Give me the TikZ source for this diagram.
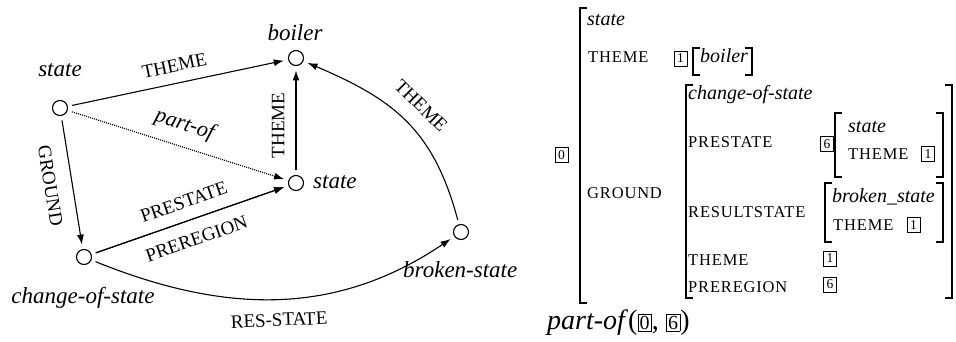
\documentclass[tikz,border=0pt]{standalone}
\usepackage{fontspec}
\setmainfont{Liberation Serif}
\newfontfamily\attrfont[LetterSpace=5]{Liberation Serif}
\usetikzlibrary{arrows.meta}

\begin{document}
\begin{tikzpicture}[x=1pt, y=1pt, >={Latex[length=10pt,width=7pt]},
    vertex/.style={draw, circle, minimum size=15pt, inner sep=0pt, outer sep=5pt, line width=1.1pt},
    vlabel/.style={font=\fontsize{23}{26}\selectfont\itshape, inner sep=0pt, anchor=base},
    elabel/.style={font=\fontsize{19}{22}\selectfont, inner sep=1pt},
    link/.style={->, line width=1.1pt},
    feat/.style={font=\attrfont\fontsize{16.5}{18}\selectfont, inner sep=0pt, anchor=base west},
    typ/.style={font=\fontsize{20}{24}\selectfont\itshape, inner sep=0pt, anchor=base west},
    tagbox/.style={draw, line width=0.7pt, font=\fontsize{13.5}{14}\selectfont, inner sep=1pt, minimum width=13pt, minimum height=15pt},
    brack/.style={line width=1.3pt}]
        \useasboundingbox (0,0) rectangle (956,-342);
        % graph
        \node[vertex] (s1) at (60,-108) {};
        \node[vertex] (boiler) at (296,-58) {};
        \node[vertex] (s2) at (296,-183) {};
        \node[vertex] (cos) at (84,-257) {};
        \node[vertex] (broken) at (461,-232) {};
        \node[vlabel] (ls1) at (60,-77) {state};
        \node[vlabel] (lboiler) at (295,-41) {boiler};
        \node[vlabel, anchor=base west] (ls2) at (313,-188) {state};
        \node[vlabel] (lcos) at (83,-303) {change-of-state};
        \node[vlabel, anchor=base west] (lbroken) at (403,-277) {broken-state};
        \draw[link] (s1) -- node[elabel, sloped, above=10pt] {THEME} (boiler);
        \draw[link, densely dotted] (s1) -- node[elabel, font=\fontsize{22}{24}\selectfont\itshape, sloped, above=10pt] {part-of} (s2);
        \draw[link] (s1) -- node[elabel, sloped, below=14pt] {GROUND} (cos);
        \draw[link] (s2) -- node[elabel, pos=0.45, rotate=90, above=10pt] {THEME} (boiler);
        \draw[link] (cos) -- node[elabel, sloped, above=11pt] {PRESTATE} (s2);
        \draw[link] (cos) -- node[elabel, sloped, below=12pt] {PREREGION} (s2);
        \draw[link] (cos) to[out=-22, in=-146] node[elabel, sloped, below=13pt] {RES-STATE} (broken);
        \draw[link] (broken) to[out=105, in=-23, looseness=1.1] node[elabel, sloped, above=14pt] {THEME} (boiler);
        % feature structure
        \foreach \x/\t/\b in {580/8/303, 693/48/75, 686/85/298, 835/113/177, 825/183/242}
            \draw[brack] (\x+7,-\t) -- (\x,-\t) -- (\x,-\b) -- (\x+7,-\b);
        \foreach \x/\t/\b in {752/48/75, 952/85/298, 943/113/177, 943/183/242}
            \draw[brack] (\x-7,-\t) -- (\x,-\t) -- (\x,-\b) -- (\x-7,-\b);
        \node[typ] (tstate) at (587,-26) {state};
        \node[typ] (tboiler) at (700,-63) {boiler};
        \node[typ] (tcos) at (688,-100) {change-of-state};
        \node[typ] (tpre) at (848,-133) {state};
        \node[typ] (tres) at (832,-202) {broken\_state};
        \node[feat] (ftheme) at (588,-63) {THEME};
        \node[feat] (fground) at (587,-198) {GROUND};
        \node[feat] (fprestate) at (688,-148) {PRESTATE};
        \node[feat] (fpretheme) at (848,-160) {THEME};
        \node[feat] (fresult) at (688,-217) {RESULTSTATE};
        \node[feat] (frestheme) at (833,-230) {THEME};
        \node[feat] (fcostheme) at (688,-265) {THEME};
        \node[feat] (fpreregion) at (688,-292) {PREREGION};
        \node[tagbox] (tag0) at (561.5,-155) {0};
        \node[tagbox] (tag1) at (680.5,-58.5) {1};
        \node[tagbox] (tag6) at (827,-144) {6};
        \node[tagbox] (tag1a) at (928,-154) {1};
        \node[tagbox] (tag1b) at (913.5,-225) {1};
        \node[tagbox] (tag1c) at (830,-258.5) {1};
        \node[tagbox] (tag6a) at (830,-284.5) {6};
        \node[inner sep=0pt, anchor=base west] (partof) at (547,-329)
            {\fontsize{28}{30}\selectfont\textit{part-of}(\setlength{\fboxsep}{1.5pt}\setlength{\fboxrule}{0.7pt}\fbox{\fontsize{20}{22}\selectfont 0}, \fbox{\fontsize{20}{22}\selectfont 6})};
\end{tikzpicture}
\end{document}
